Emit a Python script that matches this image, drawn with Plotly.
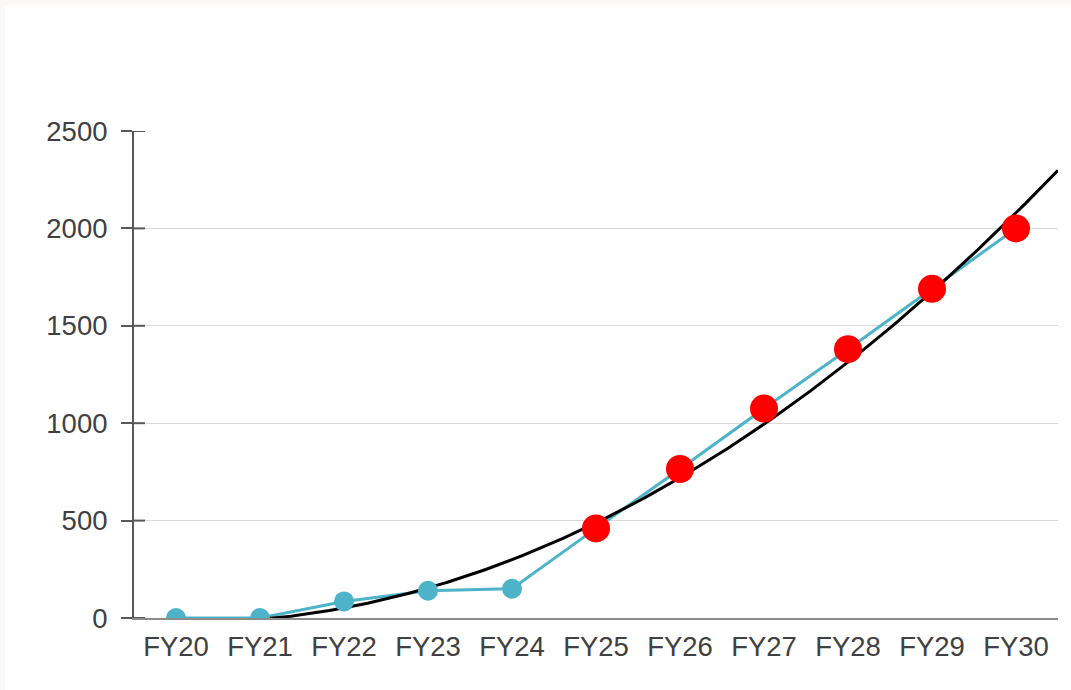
import numpy as np
import plotly.graph_objects as go

categories = ["FY20", "FY21", "FY22", "FY23", "FY24", "FY25", "FY26", "FY27", "FY28", "FY29", "FY30"]
values = [0, 0, 85, 140, 150, 460, 765, 1075, 1380, 1690, 2000]
actual_count = 5  # FY20-FY24 actual (blue), FY25-FY30 forecast (red)
y_ticks = [0, 500, 1000, 1500, 2000, 2500]

xs = list(range(len(categories)))

# polynomial (order 2) trendline, as in the original chart, extended half a period forward
coef = np.polyfit(xs, values, 2)
tx = np.linspace(0, len(categories) - 0.5, 300)
ty = np.polyval(coef, tx)

BLUE = "#4DB3C8"
RED = "#FF0000"
FONT = "Liberation Sans, Arial, sans-serif"
TXT = "#404040"
AX = "#595959"
FS = 27.5
PLOT_W = 924  # plot-area width in px (for tick-length conversion)

fig = go.Figure()
fig.add_trace(go.Scatter(x=xs, y=values, mode="lines",
                         line=dict(color=BLUE, width=3), showlegend=False, hoverinfo="skip"))
fig.add_trace(go.Scatter(x=tx, y=ty, mode="lines",
                         line=dict(color="#000000", width=3), showlegend=False, hoverinfo="skip"))
fig.add_trace(go.Scatter(x=xs[:actual_count], y=values[:actual_count], mode="markers",
                         marker=dict(color=BLUE, size=20), showlegend=False))
fig.add_trace(go.Scatter(x=xs[actual_count:], y=values[actual_count:], mode="markers",
                         marker=dict(color=RED, size=28), showlegend=False))

# inner half of the "cross" tick marks on the value axis
shapes = [dict(type="rect", xref="paper", yref="paper",
               x0=-129 / PLOT_W, x1=1 + 13 / PLOT_W, y0=-72 / 487, y1=1 + 125 / 487,
               fillcolor="white", line=dict(width=0), layer="below")]
for t in y_ticks:
    shapes.append(dict(type="line", xref="paper", yref="y", x0=0, x1=11 / PLOT_W,
                       y0=t, y1=t, line=dict(color=AX, width=2), layer="above"))

fig.update_layout(
    width=1071, height=690,
    margin=dict(l=134, r=13, t=131, b=72),
    paper_bgcolor="#fbf9f7",
    plot_bgcolor="white",
    showlegend=False,
    font=dict(family=FONT, size=FS, color=TXT),
    xaxis=dict(
        range=[-0.5, len(categories) - 0.5],
        tickmode="array", tickvals=xs, ticktext=categories,
        showgrid=False, zeroline=False,
        showline=True, linecolor="#8c8c8c", linewidth=2,
        ticks="", ticklabelstandoff=3,
        tickfont=dict(family=FONT, size=FS, color=TXT),
    ),
    yaxis=dict(
        range=[0, 2500], tickmode="array", tickvals=y_ticks,
        showgrid=True, gridcolor="#d9d9d9", gridwidth=1,
        zeroline=False,
        showline=True, linecolor=AX, linewidth=2,
        ticks="outside", ticklen=11, tickwidth=2, tickcolor=AX,
        ticklabelstandoff=8,
        tickfont=dict(family=FONT, size=FS, color=TXT),
    ),
    shapes=shapes,
)

fig.write_html("out.html", config={"displayModeBar": False},
               post_script="document.body.style.margin='0';")
